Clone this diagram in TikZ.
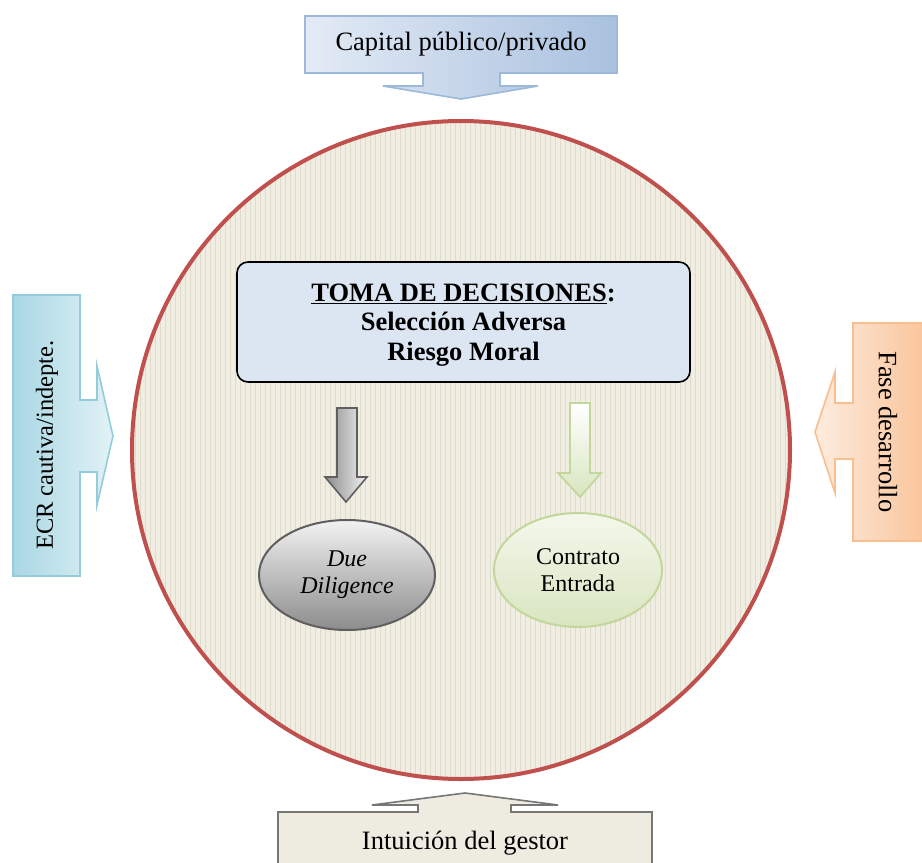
\documentclass[tikz,border=0pt]{standalone}
\usepackage{fontspec}
\setmainfont{Liberation Serif}
\usetikzlibrary{shapes.geometric}
\definecolor{circfill}{HTML}{F0EDE2}
\definecolor{gridlight}{HTML}{F8F6F0}
\definecolor{griddark}{HTML}{E0DBCA}
\definecolor{circred}{HTML}{C0504D}
\definecolor{blueA}{HTML}{E3EBF5}
\definecolor{blueB}{HTML}{A9C1DF}
\definecolor{blueline}{HTML}{9DB9DA}
\definecolor{cyanA}{HTML}{E2F2F6}
\definecolor{cyanB}{HTML}{A9D7E3}
\definecolor{cyanline}{HTML}{93CDDC}
\definecolor{orA}{HTML}{FDECDF}
\definecolor{orB}{HTML}{F9C194}
\definecolor{orline}{HTML}{F9BF8F}
\definecolor{begA}{HTML}{EEECE1}
\definecolor{begline}{HTML}{767676}
\definecolor{boxfill}{HTML}{DCE6F2}
\definecolor{greyA}{HTML}{F2F2F2}
\definecolor{greyB}{HTML}{8C8C8C}
\definecolor{greyline}{HTML}{5F5F5F}
\definecolor{grnA}{HTML}{F4F8EC}
\definecolor{grnB}{HTML}{D9E5C0}
\definecolor{grnline}{HTML}{C3D69B}
\tikzset{
  callout/.style={line width=1.6pt, line join=miter},
  bigtxt/.style={font=\fontsize{26.5}{29.5}\selectfont, inner sep=0pt},
  decbox/.style={draw=black, line width=1.6pt, rounded corners=11pt, fill=boxfill,
    minimum width=453pt, minimum height=120pt, inner sep=0pt},
  dectxt/.style={align=center, inner sep=0pt, font=\bfseries\fontsize{26.5}{29.5}\selectfont},
  ell/.style={ellipse, line width=2pt, inner sep=0pt, align=center,
    font=\fontsize{24}{27}\selectfont}
}
\begin{document}
\begin{tikzpicture}[x=1pt,y=-1pt]
\clip (0,0) rectangle (922,863);
\fill[white] (0,0) rectangle (922,863);
% big circle
\fill[circfill] (461,450) circle (329);
\begin{scope}
  \clip (461,450) circle (329);
  \draw[griddark, line width=0.45pt] (128,118) grid[step=5] (796,784);
\end{scope}
\draw[circred, line width=4pt] (461,450) circle (329);

% top callout
\draw[callout, draw=blueline, right color=blueB, left color=blueA]
  (305,16) -- (617,16) -- (617,73) -- (500,73) -- (500,86) -- (538,86) -- (461,99)
  -- (383,86) -- (423,86) -- (423,73) -- (305,73) -- cycle;
\node[bigtxt] (cap) at (461,44) {Capital público/privado};

% left callout
\draw[callout, draw=cyanline, left color=cyanB, right color=cyanA]
  (13,295) -- (80,295) -- (80,400) -- (97,400) -- (97,366) -- (113,436) -- (97,505)
  -- (97,472) -- (80,472) -- (80,576) -- (13,576) -- cycle;
\node[font=\fontsize{24.5}{27}\selectfont, inner sep=0pt, rotate=90] (ecr) at (47,445) {ECR cautiva/indepte.};

% right callout
\draw[callout, draw=orline, left color=orA, right color=orB]
  (935,323) -- (853,323) -- (853,403) -- (835,403) -- (835,372) -- (815,432) -- (835,493)
  -- (835,459) -- (853,459) -- (853,541) -- (935,541);
\node[bigtxt, rotate=-90] (fase) at (888,432) {Fase desarrollo};

% bottom callout
\draw[callout, draw=begline, fill=begA]
  (278,880) -- (278,812) -- (418,812) -- (418,805) -- (372,805) -- (465,793) -- (558,805)
  -- (511,805) -- (511,812) -- (652,812) -- (652,880);
\node[bigtxt] (intu) at (465,843) {Intuición del gestor};

% decision box
\node[decbox] (box) at (463.5,322) {};
\node[dectxt] (boxtxt) at (463.5,325) {\underline{TOMA DE DECISIONES}:\\Selección Adversa\\Riesgo Moral};

% ellipses
\node[ell, draw=greyline, top color=greyA, bottom color=greyB, minimum width=176pt, minimum height=110pt] (dd) at (347,575) {\itshape Due\\\itshape Diligence};
\node[ell, draw=grnline, top color=grnA, bottom color=grnB, minimum width=168pt, minimum height=114pt] (ce) at (578,570) {Contrato\\Entrada};

% block arrows
\draw[draw=greyline, line width=1.6pt, left color=greyB, right color=greyA, line join=miter]
  (337,408) -- (357,408) -- (357,477) -- (367,477) -- (346,502) -- (325,477) -- (337,477) -- cycle;
\draw[draw=grnline, line width=1.8pt, top color=white, bottom color=grnB, line join=miter]
  (570,403) -- (590,403) -- (590,473) -- (601,473) -- (580,497) -- (558,473) -- (570,473) -- cycle;
\end{tikzpicture}
\end{document}
